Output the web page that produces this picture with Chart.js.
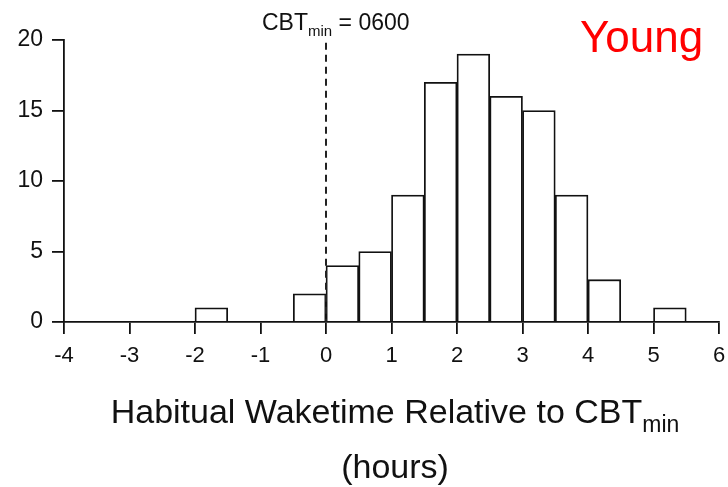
<!DOCTYPE html>
<html>
<head>
<meta charset="utf-8">
<script src="https://cdn.jsdelivr.net/npm/chart.js@4"></script>
<style>
  html, body { margin: 0; padding: 0; background: #fff; }
  #wrap { width: 728px; height: 487px; }
</style>
</head>
<body>
<div id="wrap"><canvas id="wakeChart"></canvas></div>
<script>
// bin centres (hours relative to CBTmin), bins are 0.5 h wide
const binCenters = [-1.75, -0.25, 0.25, 0.75, 1.25, 1.75, 2.25, 2.75, 3.25, 3.75, 4.25, 4.75, 5.25];
const counts     = [1, 2, 4, 5, 9, 17, 19, 16, 15, 9, 3, 0, 1];
const xTicks = [-4, -3, -2, -1, 0, 1, 2, 3, 4, 5, 6];
const yTicks = [0, 5, 10, 15, 20];

const FONT = 'Liberation Sans, Arial, sans-serif';

const extras = {
    id: 'extras',
    afterDraw(chart) {
        const c = chart.ctx;
        const xs = chart.scales.x, ys = chart.scales.y;
        const x0 = xs.getPixelForValue(0);
        c.save();
        // dashed line at CBTmin
        c.strokeStyle = '#222';
        c.lineWidth = 2;
        c.setLineDash([7, 5]);
        c.beginPath();
        c.moveTo(x0, ys.getPixelForValue(19.8));
        c.lineTo(x0, ys.getPixelForValue(0));
        c.stroke();
        c.setLineDash([]);

        c.fillStyle = '#111';
        c.textBaseline = 'alphabetic';
        // CBTmin = 0600
        c.font = '23px ' + FONT;
        let tx = 262, ty = 30;
        c.fillText('CBT', tx, ty);
        tx += c.measureText('CBT').width;
        c.font = '15px ' + FONT;
        c.fillText('min', tx, ty + 6);
        tx += c.measureText('min').width;
        c.font = '23px ' + FONT;
        c.fillText(' = 0600', tx, ty);

        // axis title
        c.font = '34px ' + FONT;
        const t1 = 'Habitual Waketime Relative to CBT';
        const w1 = c.measureText(t1).width;
        c.font = '23px ' + FONT;
        const w2 = c.measureText('min').width;
        let ax = 395 - (w1 + w2) / 2;
        c.font = '34px ' + FONT;
        c.fillText(t1, ax, 423);
        c.font = '23px ' + FONT;
        c.fillText('min', ax + w1, 432);
        c.font = '34px ' + FONT;
        c.textAlign = 'center';
        c.fillText('(hours)', 395, 478);

        // group label
        c.fillStyle = '#ff0000';
        c.font = '44px ' + FONT;
        c.textAlign = 'left';
        c.fillText('Young', 580, 52);
        c.restore();
    }
};

new Chart(document.getElementById('wakeChart'), {
    type: 'bar',
    data: {
        datasets: [{
            data: binCenters.map((x, i) => ({x: x, y: counts[i]})),
            backgroundColor: '#ffffff',
            borderColor: '#111111',
            borderWidth: 1.8,
            barPercentage: 1,
            categoryPercentage: 1
        }]
    },
    options: {
        responsive: true,
        maintainAspectRatio: false,
        animation: false,
        layout: {padding: {top: 40, right: 9, left: 0, bottom: 0}},
        plugins: {legend: {display: false}, tooltip: {enabled: false}},
        scales: {
            x: {
                type: 'linear',
                min: -4, max: 6,
                offset: false,
                afterBuildTicks: s => { s.ticks = xTicks.map(v => ({value: v})); },
                afterFit: s => { s.height = 165; s.paddingLeft = 0; s.paddingRight = 0; },
                grid: {offset: false, drawOnChartArea: false, drawTicks: true, tickLength: 12, color: '#111', lineWidth: 1.8},
                border: {color: '#111', width: 1.8},
                ticks: {color: '#111', font: {family: FONT, size: 22}, padding: 9, maxRotation: 0}
            },
            y: {
                min: 0, max: 20,
                afterBuildTicks: s => { s.ticks = yTicks.map(v => ({value: v})); },
                afterFit: s => { s.width = 64; s.paddingTop = 0; s.paddingBottom = 0; },
                grid: {drawOnChartArea: false, drawTicks: true, tickLength: 12, color: '#111', lineWidth: 1.8},
                border: {color: '#111', width: 1.8},
                ticks: {color: '#111', font: {family: FONT, size: 23}, padding: 9}
            }
        }
    },
    plugins: [extras]
});
</script>
</body>
</html>
